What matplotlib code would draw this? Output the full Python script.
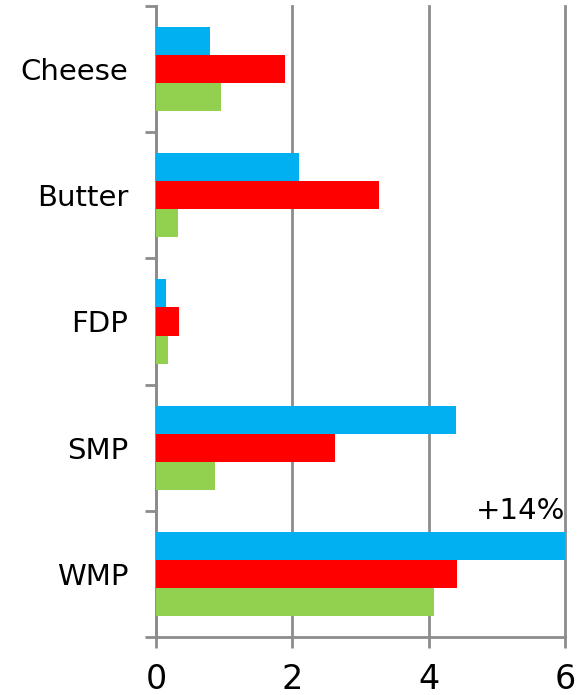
import numpy as np
import matplotlib.pyplot as plt

# Dairy products, listed top to bottom
products = ['Cheese', 'Butter', 'FDP', 'SMP', 'WMP']
blue_vals = [0.79, 2.10, 0.14, 4.40, 6.00]
red_vals = [1.89, 3.27, 0.34, 2.63, 4.42]
green_vals = [0.95, 0.32, 0.18, 0.87, 4.08]
x_ticks = [0, 2, 4, 6]
note_text = '+14%'

colors = ['#00B0F0', '#FF0000', '#92D050']
grey = '#8C8C8C'

fig = plt.figure(figsize=(5.88, 6.95), dpi=100)
ax = fig.add_axes([156 / 588, 1 - 637 / 695, 409 / 588, 631 / 695])

y = np.arange(len(products))
h = 0.222
for off, vals, c in zip([-h, 0, h], [blue_vals, red_vals, green_vals], colors):
    ax.barh(y + off, vals, height=h, color=c, zorder=3)

ax.set_xlim(0, 6)
ax.set_ylim(len(products) - 0.5, -0.5)
ax.set_xticks(x_ticks)
ax.set_yticks(y, labels=products)
ax.set_yticks(np.arange(len(products) + 1) - 0.5, minor=True)

ax.tick_params(axis='y', which='major', length=0, pad=20, labelsize=21)
ax.tick_params(axis='y', which='minor', length=8, width=2, color=grey)
ax.tick_params(axis='x', length=8, width=2, color=grey, pad=11, labelsize=24)

ax.grid(axis='x', color=grey, linewidth=2, zorder=0)
for gl in ax.get_xgridlines():
    gl.set_clip_on(False)
for s in ['top', 'right']:
    ax.spines[s].set_visible(False)
for s in ['left', 'bottom']:
    ax.spines[s].set_color(grey)
    ax.spines[s].set_linewidth(2)

# label above the longest bar
ax.annotate(note_text, xy=(blue_vals[-1], y[-1] - 1.5 * h), xytext=(0, 5),
            textcoords='offset points', ha='right', va='bottom', fontsize=21)

fig.savefig('out.png', dpi=100)
